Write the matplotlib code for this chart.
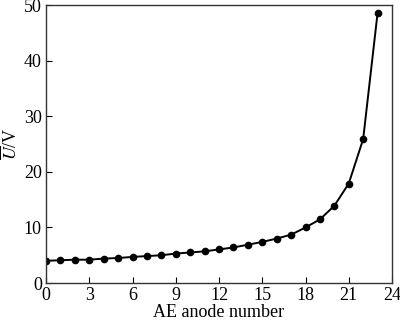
import matplotlib
matplotlib.use('Agg')
import matplotlib.pyplot as plt

# anode index and mean voltage
anode = list(range(24))
voltage = [4.0, 4.1, 4.2, 4.2, 4.4, 4.5, 4.7, 4.85, 5.0, 5.3, 5.5,
           5.7, 6.05, 6.4, 6.9, 7.4, 8.0, 8.7, 10.0, 11.45, 13.9,
           17.9, 25.9, 48.6]
xticks = [0, 3, 6, 9, 12, 15, 18, 21, 24]
yticks = [0, 10, 20, 30, 40, 50]

plt.rcParams['font.family'] = 'Liberation Serif'
plt.rcParams['mathtext.fontset'] = 'stix'

fig = plt.figure(figsize=(4.0, 3.22), dpi=100)
ax = fig.add_axes([0.115, 0.121, 0.865, 0.863])

ax.plot(anode, voltage, color='black', linewidth=1.4, marker='o',
        markersize=4.5)

ax.set_xlim(0, 24)
ax.set_ylim(0, 50)
ax.set_xticks(xticks)
ax.set_yticks(yticks)
ax.tick_params(direction='in', length=4, labelsize=13, pad=3,
               top=False, right=False)
for s in ax.spines.values():
    s.set_linewidth(1.0)
    s.set_color('#333333')
ax.set_xlabel('AE anode number', fontsize=13, labelpad=0)
ax.set_ylabel(r'$\overline{U}$/V', fontsize=13, labelpad=2)

fig.savefig('out.png', dpi=100)
